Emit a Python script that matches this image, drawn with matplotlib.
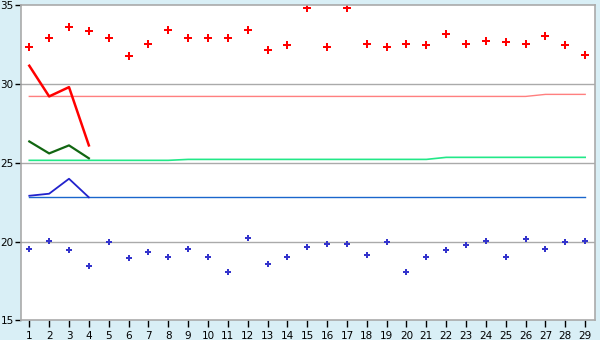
import numpy as np
import matplotlib.pyplot as plt

# x positions (samples)
samples = list(range(1, 30))

# individual points
red_points = [32.33, 32.9, 33.6, 33.35, 32.9, 31.76, 32.52, 33.41, 32.9,
              32.9, 32.9, 33.41, 32.14, 32.46, 34.81, 32.33, 34.81, 32.52, 32.33,
              32.52, 32.46, 33.16, 32.52, 32.71, 32.65, 32.52, 33.03, 32.46, 31.83]
blue_points = [19.51, 20.02, 19.44, 18.43, 19.95, 18.94, 19.32, 19.0, 19.51,
               19.0, 18.05, 20.21, 18.56, 19.0, 19.63, 19.83, 19.83, 19.13, 19.95,
               18.05, 19.0, 19.44, 19.76, 20.02, 19.0, 20.14, 19.51, 19.95, 20.02]

# short series over the first four samples
red_line = [31.17, 29.22, 29.81, 26.11]
green_line = [26.36, 25.6, 26.11, 25.29]
blue_line = [22.91, 23.04, 23.99, 22.81]

# running levels
pink_level = [29.22] * 26 + [29.35] * 3
lightgreen_level = [25.16] * 8 + [25.22] * 13 + [25.35] * 8
blue_level = [22.81] * 29

bg = '#d9eff6'
fig = plt.figure(figsize=(6, 3.4), dpi=100, facecolor=bg)
ax = fig.add_axes([0.0345, 0.058, 0.957, 0.926])
ax.set_facecolor('white')

ax.plot(samples, pink_level, color='#ff7f7f', lw=1.0)
ax.plot(samples, lightgreen_level, color='#22e888', lw=1.2)
ax.plot(samples, blue_level, color='#1a66cc', lw=1.0)

ax.plot(samples[:4], red_line, color='#ff0000', lw=1.8)
ax.plot(samples[:4], green_line, color='#116611', lw=1.6)
ax.plot(samples[:4], blue_line, color='#2222cc', lw=1.3)

ax.plot(samples, red_points, ls='none', marker='P', ms=5.5, color='#ff0000', mew=0)
ax.plot(samples, blue_points, ls='none', marker='P', ms=5, color='#3333cc', mew=0)

ax.set_xlim(0.567, 29.49)
ax.set_ylim(15, 35)
ax.set_xticks(samples)
ax.set_yticks([15, 20, 25, 30, 35])
for v in [20, 25, 30]:
    ax.axhline(v, color='#aaaaaa', lw=1.0, zorder=0)

for s in ax.spines.values():
    s.set_color('#aaaaaa')
    s.set_linewidth(1.2)
ax.tick_params(axis='both', colors='#000000', labelsize=7.5, width=1)
ax.tick_params(axis='y', length=4, pad=1)
ax.tick_params(axis='x', length=5, pad=3)

fig.savefig('out.png', dpi=100, facecolor=bg)
